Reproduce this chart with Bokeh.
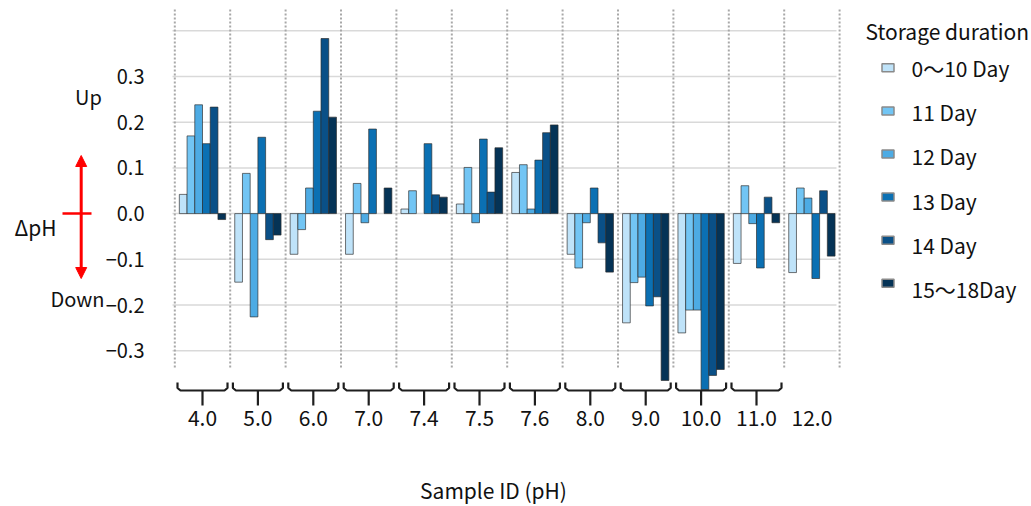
import math
from bokeh.plotting import figure
from bokeh.models import Range1d, Arrow, NormalHead
from bokeh.core.properties import value
from bokeh.embed import file_html
from bokeh.resources import INLINE

NaN = float("nan")

# ---------------- data ----------------
groups = ["4.0", "5.0", "6.0", "7.0", "7.4", "7.5", "7.6", "8.0", "9.0", "10.0", "11.0", "12.0"]
series_names = ["0～10 Day", "11 Day", "12 Day", "13 Day", "14 Day", "15～18Day"]
d0_10 = [0.042, -0.150, -0.089, -0.089, 0.010, 0.021, 0.090, -0.089, -0.239, -0.261, -0.109, -0.129]
d11 = [0.170, 0.088, -0.035, 0.066, 0.050, 0.101, 0.107, -0.119, -0.151, -0.211, 0.061, 0.056]
d12 = [0.238, -0.226, 0.056, -0.020, NaN, -0.020, 0.010, -0.020, -0.139, -0.211, -0.022, 0.034]
d13 = [0.153, 0.167, 0.224, 0.185, 0.153, 0.163, 0.117, 0.056, -0.202, -0.385, -0.119, -0.142]
d14 = [0.233, -0.057, 0.383, NaN, 0.041, 0.047, 0.177, -0.064, -0.182, -0.354, 0.036, 0.050]
d15_18 = [-0.013, -0.047, 0.211, 0.056, 0.036, 0.144, 0.194, -0.128, -0.365, -0.341, -0.020, -0.093]
series_values = [d0_10, d11, d12, d13, d14, d15_18]
bracketed_groups = groups[:11]

grid_values = [0.4, 0.3, 0.2, 0.1, 0.0, -0.1, -0.2, -0.3]
y_tick_values = [0.3, 0.2, 0.1, 0.0, -0.1, -0.2, -0.3]
y_tick_labels = ["0.3", "0.2", "0.1", "0.0", "\u22120.1", "\u22120.2", "\u22120.3"]
legend_title = "Storage duration"
x_title = "Sample ID (pH)"
y_title = "\u0394pH"
up_label = "Up"
down_label = "Down"

# ---------------- styles / layout ----------------
colors = ["#bfe3f9", "#72c5f4", "#4dabe4", "#0b70b3", "#0a5087", "#053356"]
FONT = value("Noto Sans CJK JP")
W, H = 1029, 504
X0, GX = 174.3, 55.4      # px of first group boundary, px per group
Y0, GY = 213.1, 457.1     # px of zero, px per unit


def dx(px):
    return (px - X0) / GX


def dy(py):
    return (Y0 - py) / GY


p = figure(width=W, height=H,
           x_range=Range1d(dx(0), dx(W)), y_range=Range1d(dy(H), dy(0)),
           output_backend="svg", toolbar_location=None,
           x_axis_location=None, y_axis_location=None, min_border=0)
p.outline_line_color = None
p.xgrid.visible = False
p.ygrid.visible = False
p.background_fill_color = "white"
p.border_fill_color = "white"

n = len(groups)
# horizontal gridlines
p.segment(x0=dx(172), x1=dx(836), y0=grid_values, y1=grid_values,
          line_color="#d9d9d9", line_width=1.5)
# dotted group separators
bounds = list(range(n + 1))
p.segment(x0=bounds, x1=bounds, y0=dy(9), y1=dy(368),
          line_color="#a8a8a8", line_width=2, line_dash="2 2")

# bars
bw = 7.72 / GX
for k, (vals, col) in enumerate(zip(series_values, colors)):
    xs = [i + 0.5 + (k - 2.5) * bw for i in range(n)]
    p.vbar(x=xs, top=vals, bottom=0, width=bw, fill_color=col,
           line_color="#2a2a2a", line_alpha=0.65, line_width=1)

# brackets under groups
hw = 25 / GX
r = 3 / GX
yt, yr, yb, ytick = dy(382), dy(387.5), dy(390), dy(405)
bxs, bys = [], []
for i, _g in enumerate(bracketed_groups):
    c = i + 0.5
    bxs.append([c - hw, c - hw, c - hw + r, c + hw - r, c + hw, c + hw])
    bys.append([yt, yr, yb, yb, yr, yt])
    bxs.append([c, c])
    bys.append([yb, ytick])
p.multi_line(xs=bxs, ys=bys, line_color="#1e1e1e", line_width=2.2)

# x tick labels
p.text(x=[i + 0.5 for i in range(n)], y=dy(417), text=groups,
       text_align="center", text_baseline="middle",
       text_font=FONT, text_font_size="21px", text_color="#111111")
# y tick labels
p.text(x=dx(144), y=y_tick_values, text=y_tick_labels,
       text_align="right", text_baseline="middle",
       text_font=FONT, text_font_size="20px", text_color="#111111")

# Up / Down / delta pH annotation
p.text(x=[dx(88)], y=[dy(96)], text=[up_label], text_align="center", text_baseline="middle",
       text_font=FONT, text_font_size="20px", text_color="#111111")
p.text(x=[dx(104)], y=[dy(298)], text=[down_label], text_align="right", text_baseline="middle",
       text_font=FONT, text_font_size="20px", text_color="#111111")
p.text(x=[dx(35)], y=[dy(226)], text=[y_title], text_align="center", text_baseline="middle",
       text_font=FONT, text_font_size="21px", text_color="#111111")
p.add_layout(Arrow(x_start=dx(80.7), y_start=dy(278), x_end=dx(80.7), y_end=dy(155),
                   start=NormalHead(size=11, fill_color="red", line_color="red"),
                   end=NormalHead(size=11, fill_color="red", line_color="red"),
                   line_color="red", line_width=3))
p.segment(x0=[dx(62)], x1=[dx(91)], y0=[0], y1=[0], line_color="red", line_width=2.5)

# axis title
p.text(x=[dx(493)], y=[dy(489)], text=[x_title], text_align="center", text_baseline="middle",
       text_font=FONT, text_font_size="21px", text_color="#111111")

# legend
p.text(x=[dx(865)], y=[dy(30)], text=[legend_title], text_align="left", text_baseline="middle",
       text_font=FONT, text_font_size="21px", text_color="#111111")
sw_y = [dy(67.3 + 43.1 * k) for k in range(len(series_names))]
lab_y = [dy(67.5 + 44.2 * k) for k in range(len(series_names))]
p.rect(x=dx(887.5), y=sw_y, width=12, height=8, width_units="screen", height_units="screen",
       fill_color=colors, line_color="#8a8a8a", line_width=1.5)
p.text(x=dx(911), y=lab_y, text=series_names, text_align="left", text_baseline="middle",
       text_font=FONT, text_font_size="21px", text_color="#111111")

open("out.html", "w").write(file_html(p, INLINE))
